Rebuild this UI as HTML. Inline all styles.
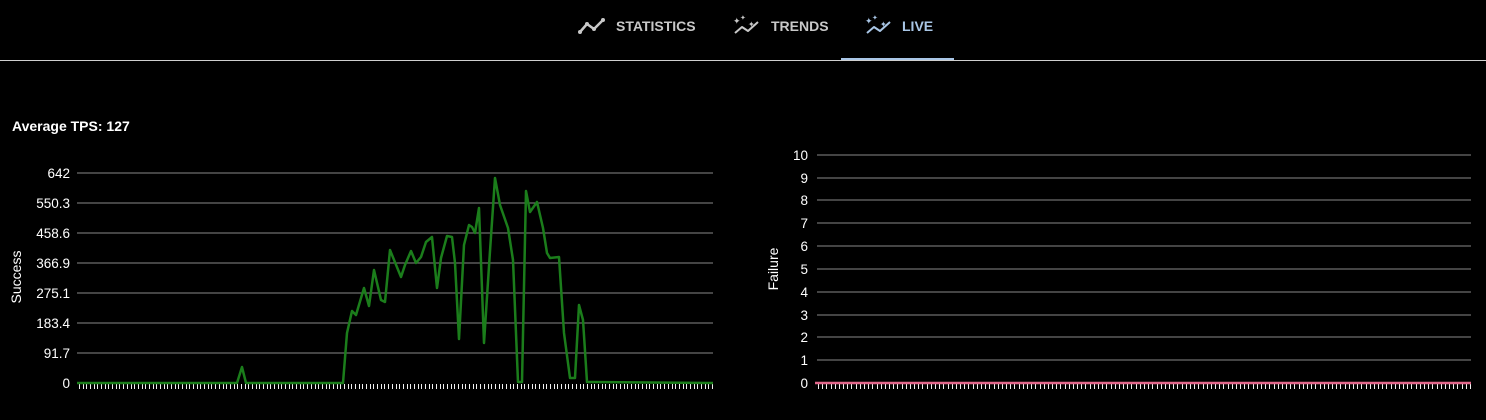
<!DOCTYPE html>
<html><head><meta charset="utf-8"><style>
html,body{margin:0;padding:0;background:#000;width:1486px;height:420px;overflow:hidden;font-family:"Liberation Sans",sans-serif}
</style></head><body>
<svg width="1486" height="420" xmlns="http://www.w3.org/2000/svg" font-family="Liberation Sans, sans-serif">
<rect width="1486" height="420" fill="#000"/>
<g stroke="#c8c8c8" stroke-width="2.5" fill="none" stroke-linecap="round" stroke-linejoin="round">
<polyline points="580,32 587,24 594,29 603,20"/>
</g>
<g fill="#c8c8c8"><circle cx="580" cy="32" r="2"/><circle cx="587" cy="24" r="2"/><circle cx="594" cy="29" r="2"/><circle cx="603" cy="20" r="2"/></g>
<text x="616" y="31" fill="#c8c8c8" font-size="14" font-weight="bold">STATISTICS</text>
<g stroke="#c8c8c8" stroke-width="2" fill="none" stroke-linejoin="round"><polyline points="735,33 742,27 748,31 758,22"/></g>
<text x="733" y="24" fill="#c8c8c8" font-size="9">✦</text><text x="740" y="20" fill="#c8c8c8" font-size="7">✦</text><text x="748" y="27" fill="#c8c8c8" font-size="8">✦</text>
<text x="771" y="31" fill="#c8c8c8" font-size="14" font-weight="bold">TRENDS</text>
<g stroke="#a9c6e6" stroke-width="2" fill="none" stroke-linejoin="round"><polyline points="867,33 874,27 880,31 890,22"/></g>
<text x="865" y="24" fill="#a9c6e6" font-size="9">✦</text><text x="872" y="20" fill="#a9c6e6" font-size="7">✦</text><text x="880" y="27" fill="#a9c6e6" font-size="8">✦</text>
<text x="902" y="31" fill="#a9c6e6" font-size="14" font-weight="bold">LIVE</text>
<rect x="0" y="60" width="1486" height="1" fill="#d0d0d0"/>
<rect x="841" y="58" width="113" height="2" fill="#a9c6e6"/>
<text x="12" y="131" fill="#fff" font-size="14" font-weight="bold">Average TPS: 127</text>
<g stroke="#888" stroke-width="1">
<line x1="77" x2="713" y1="173" y2="173"/><line x1="77" x2="713" y1="203" y2="203"/><line x1="77" x2="713" y1="233" y2="233"/><line x1="77" x2="713" y1="263" y2="263"/><line x1="77" x2="713" y1="293" y2="293"/><line x1="77" x2="713" y1="323" y2="323"/><line x1="77" x2="713" y1="353" y2="353"/>
</g>
<g fill="#fff" font-size="13.5" text-anchor="end">
<text x="70" y="178">642</text><text x="70" y="208">550.3</text><text x="70" y="238">458.6</text><text x="70" y="268">366.9</text><text x="70" y="298">275.1</text><text x="70" y="328">183.4</text><text x="70" y="358">91.7</text><text x="70" y="388">0</text>
</g>
<text transform="translate(21,277) rotate(-90)" fill="#fff" font-size="14" text-anchor="middle">Success</text>
<g id="lt" stroke="#f0f0f0" stroke-width="1"></g>
<polyline fill="none" stroke="#1b7d1b" stroke-width="2.5" stroke-linejoin="round" points="77,383 237,383 242,367 246,383 343,383 347,333 352,311 356,315 364,288 369,306 374,270 381,300 385,302 390,250 401,277 405,265 411,251 416,263 421,257 426,242 432,237 437,288 441,258 447,236 452,237 455,263 459,339 464,245 469,225 472,227 475,233 479,208 484,343 490,251 495,178 500,205 508,228 513,260 518,382 522,382 526,191 530,212 537,202 543,228 547,253 550,258 559,257 564,333 570,378 575,378 579,305 583,320 587,382 592,382 713,383"/>
<g stroke="#888" stroke-width="1">
<line x1="817" x2="1471" y1="155" y2="155"/><line x1="817" x2="1471" y1="178" y2="178"/><line x1="817" x2="1471" y1="200" y2="200"/><line x1="817" x2="1471" y1="223" y2="223"/><line x1="817" x2="1471" y1="246" y2="246"/><line x1="817" x2="1471" y1="269" y2="269"/><line x1="817" x2="1471" y1="292" y2="292"/><line x1="817" x2="1471" y1="315" y2="315"/><line x1="817" x2="1471" y1="337" y2="337"/><line x1="817" x2="1471" y1="360" y2="360"/>
</g>
<g fill="#fff" font-size="13.5" text-anchor="end">
<text x="808" y="160">10</text><text x="808" y="183">9</text><text x="808" y="205">8</text><text x="808" y="228">7</text><text x="808" y="251">6</text><text x="808" y="274">5</text><text x="808" y="297">4</text><text x="808" y="320">3</text><text x="808" y="342">2</text><text x="808" y="365">1</text><text x="808" y="388">0</text>
</g>
<text transform="translate(778,269) rotate(-90)" fill="#fff" font-size="14" text-anchor="middle">Failure</text>
<g id="rt" stroke="#f0f0f0" stroke-width="1"></g>
<line x1="815" x2="1471" y1="383" y2="383" stroke="#e0668a" stroke-width="2.5"/>
</svg>
<script>
function ticks(id,x0,x1,n){var g=document.getElementById(id),s='';for(var i=0;i<=n;i++){var x=(Math.round(x0+(x1-x0)*i/n)+0.5);s+='<line x1="'+x+'" x2="'+x+'" y1="384" y2="389"/>';}g.innerHTML=s;}
ticks('lt',79,712,172);ticks('rt',818,1470,156);
</script>
</body></html>
